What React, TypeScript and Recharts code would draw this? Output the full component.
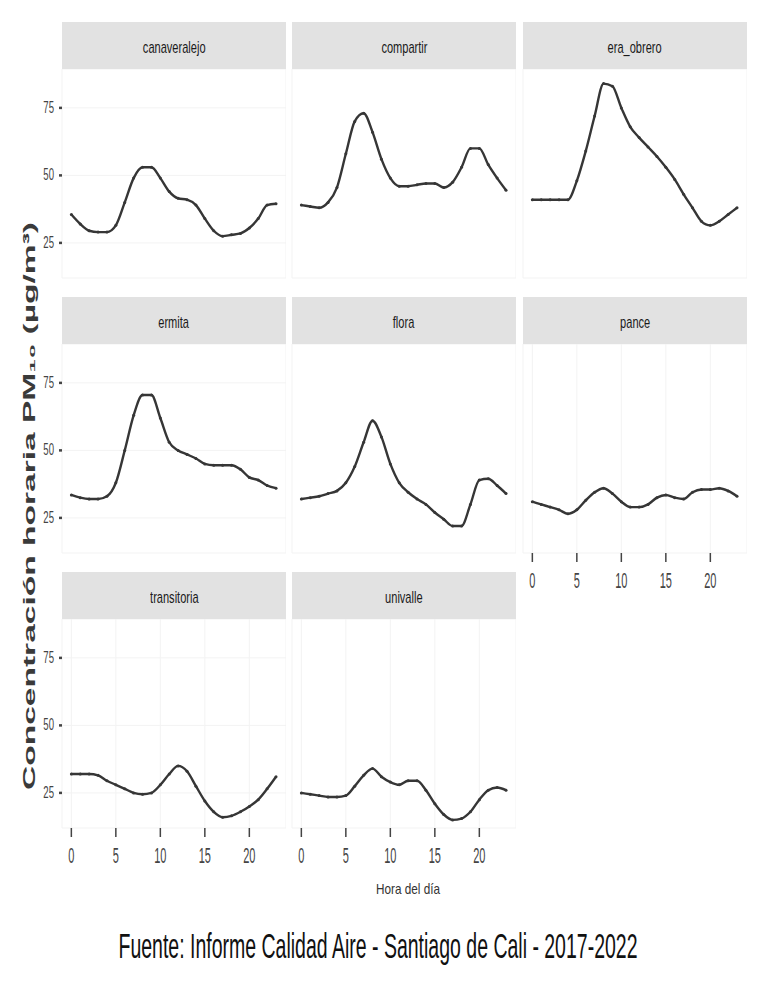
import { LineChart, Line, XAxis, YAxis, CartesianGrid } from "recharts"

// hora del día
const hours = [0, 1, 2, 3, 4, 5, 6, 7, 8, 9, 10, 11, 12, 13, 14, 15, 16, 17, 18, 19, 20, 21, 22, 23]

const stations = ["canaveralejo", "compartir", "era_obrero", "ermita", "flora", "pance", "transitoria", "univalle"]

// PM10 promedio horario por estación
const canaveralejo = [35.5, 32, 29.5, 29, 29, 31.5, 40, 49, 53, 53, 49, 44, 41.5, 41, 39, 34, 29.5, 27.5, 28, 28.5, 30.5, 34, 39, 39.5]
const compartir = [39, 38.5, 38, 40, 45.5, 58, 70, 73, 66, 56, 49, 46, 46, 46.5, 47, 47, 45.5, 47.5, 53, 60, 60, 54, 49, 44.5]
const eraObrero = [41, 41, 41, 41, 41, 48, 59, 72, 84, 83, 75, 68, 64, 60.5, 57, 53, 48.5, 43, 38, 33, 31.5, 33, 35.5, 38]
const ermita = [33.5, 32.5, 32, 32, 33, 38, 50, 63, 70.5, 70.5, 62, 53, 50, 48.5, 47, 45, 44.5, 44.5, 44.5, 43, 40, 39, 37, 36]
const flora = [32, 32.5, 33, 34, 35, 38, 44, 53, 61, 55, 45, 38, 34.5, 32, 30, 27, 24.5, 22, 22, 30, 39, 39.5, 37, 34]
const pance = [31, 30, 29, 28, 26.5, 28, 31.5, 34.5, 36, 34, 31, 29, 29, 30, 32.5, 33.5, 32.5, 32, 34.5, 35.5, 35.5, 36, 35, 33]
const transitoria = [32, 32, 32, 31.5, 29.5, 28, 26.5, 25, 24.5, 25, 28, 32, 35, 33, 27.5, 22, 18, 16, 16.5, 18, 20, 22.5, 26.5, 31]
const univalle = [25, 24.5, 24, 23.5, 23.5, 24, 27.5, 31.5, 34, 31, 29, 28, 29.5, 29.5, 26, 21, 17, 15, 15.5, 18, 22.5, 26, 27, 26]

const seriesByStation = [canaveralejo, compartir, eraObrero, ermita, flora, pance, transitoria, univalle]

const xTicks = [0, 5, 10, 15, 20]
const yTicks = [25, 50, 75]

const FONT = "'Liberation Sans', Arial, sans-serif"

// geometría de las facetas
const colLeft = [62, 292, 523]
const rowTop = [22, 297, 572]
const plotW = 224
const stripH = 47
const plotH = 209
const axW = 40
const axH = 45

function XTick(props: any) {
  const { x, y, payload } = props
  return (
    <g transform={`translate(${x},${y})`}>
      <text
        textAnchor="middle"
        dy={26}
        transform="scale(0.5,1)"
        fontSize={22}
        fill="#444"
        fontFamily={FONT}
      >
        {payload.value}
      </text>
    </g>
  )
}

function YTick(props: any) {
  const { x, y, payload } = props
  return (
    <g transform={`translate(${x - 3},${y})`}>
      <text textAnchor="end" dy={5} transform="scale(0.6,1)" fontSize={16} fill="#444" fontFamily={FONT}>
        {payload.value}
      </text>
    </g>
  )
}

function Panel({ idx }: { idx: number }) {
  const col = idx % 3
  const row = Math.floor(idx / 3)
  const showY = col === 0
  // el eje x se dibuja solo donde no hay faceta debajo
  const showX = row === 2 || idx === 5
  const data = hours.map((h, i) => ({ h, v: seriesByStation[idx][i] }))

  return (
    <>
      <div
        style={{
          position: "absolute",
          left: colLeft[col],
          top: rowTop[row],
          width: plotW,
          height: stripH,
          background: "#e2e2e2",
          display: "flex",
          alignItems: "center",
          justifyContent: "center",
        }}
      >
        <span
          style={{
            display: "inline-block",
            transform: "scaleX(0.65)",
            fontFamily: FONT,
            fontSize: 17,
            color: "#1a1a1a",
            marginTop: 4,
          }}
        >
          {stations[idx]}
        </span>
      </div>
      <div style={{ position: "absolute", left: colLeft[col] - axW, top: rowTop[row] + stripH }}>
        <LineChart
          width={plotW + axW}
          height={plotH + axH}
          data={data}
          margin={{ top: 0, right: 0, bottom: 0, left: 0 }}
        >
          <CartesianGrid stroke="#f3f3f3" />
          <XAxis
            dataKey="h"
            type="number"
            domain={[-1.05, 24.12]}
            ticks={xTicks}
            allowDataOverflow
            axisLine={false}
            height={axH}
            tickSize={9}
            tickMargin={0}
            tickLine={showX ? { stroke: "#444", strokeWidth: 1.5 } : false}
            tick={showX ? <XTick /> : false}
          />
          <YAxis
            type="number"
            domain={[12, 89.4]}
            ticks={yTicks}
            allowDataOverflow
            axisLine={false}
            width={axW}
            tickSize={3}
            tickMargin={2}
            tickLine={showY ? { stroke: "#444", strokeWidth: 2.5 } : false}
            tick={showY ? <YTick /> : false}
          />
          <Line
            dataKey="v"
            type="monotone"
            stroke="#363636"
            strokeWidth={2.4}
            dot={{ r: 1.5, fill: "#363636", stroke: "none" }}
            isAnimationActive={false}
          />
        </LineChart>
      </div>
    </>
  )
}

export default function App() {
  return (
    <div
      style={{
        position: "absolute",
        left: 0,
        top: 0,
        width: 767,
        height: 999,
        background: "#fff",
        overflow: "hidden",
      }}
    >
      {stations.map((s, i) => (
        <Panel key={s} idx={i} />
      ))}
      <svg width={767} height={999} style={{ position: "absolute", left: 0, top: 0, pointerEvents: "none" }}>
        <text
          transform="translate(35,506) rotate(-90)"
          textAnchor="middle"
          fontFamily={FONT}
          fontSize={17}
          fontWeight={600}
          fill="#3a3a3a"
          textLength={568}
          lengthAdjust="spacingAndGlyphs"
        >
          Concentración horaria PM₁₀ (µg/m³)
        </text>
        <text
          x={408}
          y={894}
          textAnchor="middle"
          fontFamily={FONT}
          fontSize={15}
          fill="#333"
          textLength={64}
          lengthAdjust="spacingAndGlyphs"
        >
          Hora del día
        </text>
        <g transform="translate(378,958) scale(1,1.75)">
          <text
            x={0}
            y={0}
            textAnchor="middle"
            fontFamily={FONT}
            fontSize={20}
            fill="#111"
            textLength={519}
            lengthAdjust="spacingAndGlyphs"
          >
            Fuente: Informe Calidad Aire - Santiago de Cali - 2017-2022
          </text>
        </g>
      </svg>
    </div>
  )
}
